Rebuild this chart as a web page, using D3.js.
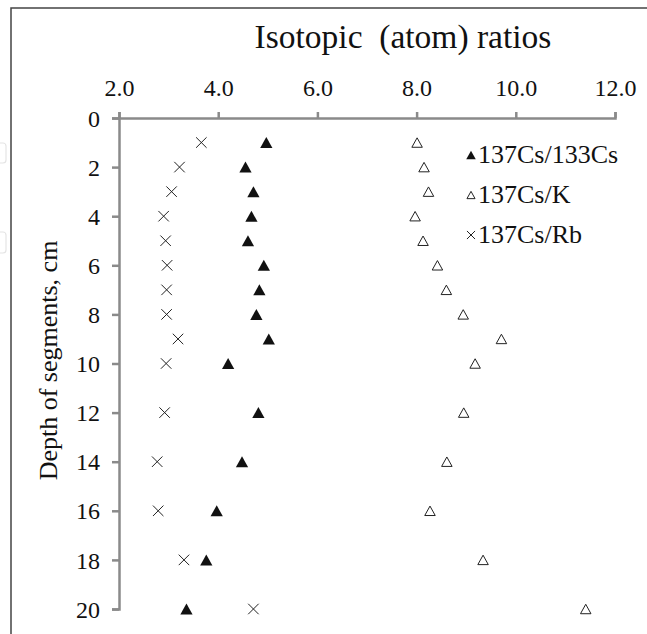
<!DOCTYPE html>
<html>
<head>
<meta charset="utf-8">
<script src="https://cdn.jsdelivr.net/npm/d3@7"></script>
<style>
  body { margin: 0; background: #fff; }
  svg { font-family: "Liberation Serif", "DejaVu Serif", serif; }
</style>
</head>
<body>
<div id="chart"></div>
<script>
// depth of each segment (cm) and the three ratio series
const depths   = [1, 2, 3, 4, 5, 6, 7, 8, 9, 10, 12, 14, 16, 18, 20];
const csCs     = [4.97, 4.55, 4.71, 4.67, 4.60, 4.92, 4.83, 4.77, 5.02, 4.20, 4.81, 4.48, 3.97, 3.76, 3.36];
const csK      = [8.01, 8.15, 8.24, 7.97, 8.13, 8.42, 8.60, 8.94, 9.71, 9.18, 8.95, 8.61, 8.27, 9.34, 11.41];
const csRb     = [3.66, 3.22, 3.06, 2.90, 2.94, 2.97, 2.96, 2.96, 3.19, 2.95, 2.92, 2.77, 2.79, 3.31, 4.71];
const xTicks   = [2, 4, 6, 8, 10, 12];
const yTicks   = [0, 2, 4, 6, 8, 10, 12, 14, 16, 18, 20];
const seriesNames = ["137Cs/133Cs", "137Cs/K", "137Cs/Rb"];

const W = 647, H = 634;
const svg = d3.select("#chart").append("svg")
    .attr("width", W).attr("height", H);

// outer frame (only top and left edges show)
svg.append("path")
    .attr("d", `M11,${H}V8H${W}`)
    .attr("fill", "none")
    .attr("stroke", "#444")
    .attr("stroke-width", 1.5);

// faint leftover boxes at the left edge
[[143, 163], [232, 253]].forEach(([a, b]) => {
  svg.append("rect")
    .attr("x", -6).attr("y", a).attr("width", 12).attr("height", b - a)
    .attr("rx", 3).attr("fill", "none")
    .attr("stroke", "#e4e4e4").attr("stroke-width", 1.2);
});

const x = d3.scaleLinear().domain([2, 12]).range([119, 615]);
const y = d3.scaleLinear().domain([0, 20]).range([118, 609]);

const axisColor = "#8a8a8a";

// top x axis
const gx = svg.append("g")
    .attr("transform", `translate(0,${y(0)})`)
    .call(d3.axisTop(x).tickValues(xTicks).tickFormat(d3.format(".1f"))
      .tickSize(6).tickSizeOuter(6).tickPadding(16));
// left y axis
const gy = svg.append("g")
    .attr("transform", `translate(${x(2)},0)`)
    .call(d3.axisLeft(y).tickValues(yTicks).tickSize(7).tickSizeOuter(7).tickPadding(12));

[gx, gy].forEach(g => {
  g.selectAll("path, line").attr("stroke", axisColor).attr("stroke-width", 2.5);
  g.selectAll("text").attr("fill", "#111")
    .style("font-family", "'Liberation Serif', serif")
    .style("font-size", "24px");
});
gy.selectAll("text").attr("dy", "0.34em");

// titles
svg.append("text")
    .attr("x", 403).attr("y", 48)
    .attr("text-anchor", "middle")
    .style("font-size", "33.5px")
    .attr("fill", "#111")
    .attr("xml:space", "preserve")
    .text("Isotopic  (atom) ratios");

svg.append("text")
    .attr("transform", `translate(57,${y(10) - 3}) rotate(-90)`)
    .attr("text-anchor", "middle")
    .style("font-size", "26px")
    .attr("fill", "#111")
    .text("Depth of segments, cm");

// marker shapes
const crossSym = {
  draw(ctx, size) {
    const r = Math.sqrt(size) / 2;
    ctx.moveTo(-r, -r); ctx.lineTo(r, r);
    ctx.moveTo(r, -r); ctx.lineTo(-r, r);
  }
};
const triSym = {
  draw(ctx, size) {
    const w = Math.sqrt(size);
    const h = w * 0.9;
    ctx.moveTo(0, -h / 2);
    ctx.lineTo(w / 2, h / 2);
    ctx.lineTo(-w / 2, h / 2);
    ctx.closePath();
  }
};

const styles = [
  {sym: triSym, size: 150, fill: "#111", stroke: "none", sw: 0},
  {sym: triSym, size: 110, fill: "none", stroke: "#222", sw: 1},
  {sym: crossSym, size: 110, fill: "none", stroke: "#222", sw: 1}
];
const seriesVals = [csCs, csK, csRb];

seriesVals.forEach((vals, i) => {
  const st = styles[i];
  svg.append("g").selectAll("path")
    .data(depths.map((d, j) => ({d, v: vals[j]})))
    .join("path")
      .attr("transform", p => `translate(${x(p.v)},${y(p.d)})`)
      .attr("d", d3.symbol().type(st.sym).size(st.size))
      .attr("fill", st.fill)
      .attr("stroke", st.stroke)
      .attr("stroke-width", st.sw);
});

// legend
const legend = svg.append("g").attr("transform", "translate(471,154)");
seriesNames.forEach((name, i) => {
  const st = styles[i];
  const g = legend.append("g").attr("transform", `translate(0,${i * 40})`);
  g.append("path")
    .attr("d", d3.symbol().type(st.sym).size(st.size * 0.6))
    .attr("transform", "translate(0,1)")
    .attr("fill", st.fill)
    .attr("stroke", st.stroke)
    .attr("stroke-width", st.sw);
  g.append("text")
    .attr("x", 7).attr("dy", "0.36em")
    .style("font-size", "26px")
    .attr("fill", "#111")
    .text(name);
});
</script>
</body>
</html>
